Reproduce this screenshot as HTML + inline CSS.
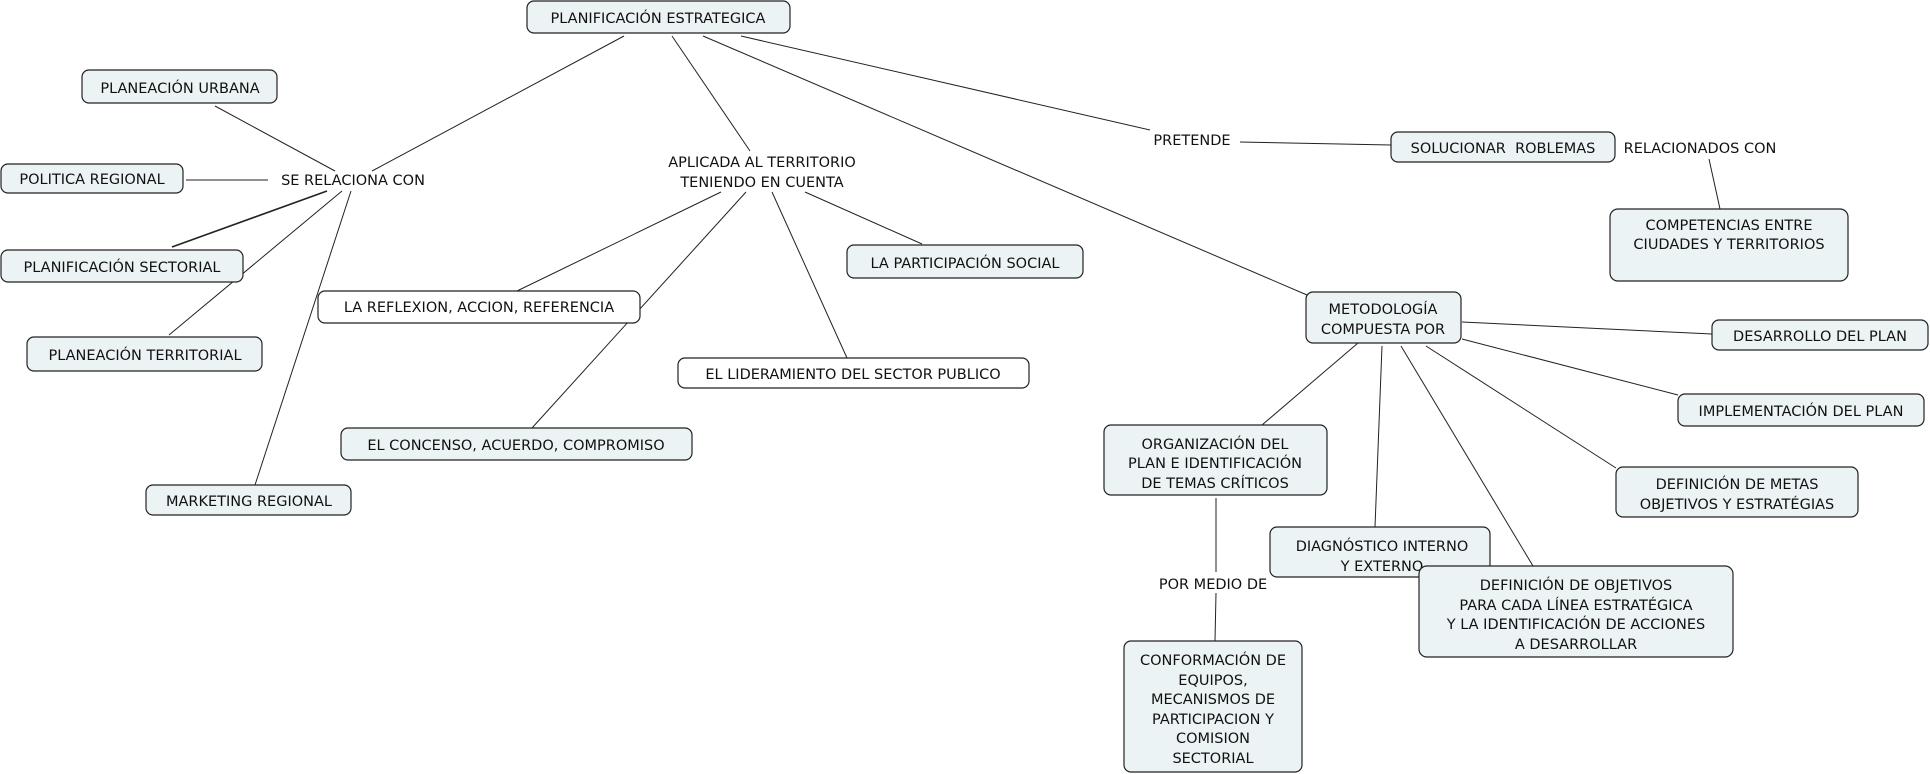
<!DOCTYPE html>
<html><head><meta charset="utf-8"><style>
html,body{margin:0;padding:0;background:#fff;}
svg{display:block;}
text{font-family:"DejaVu Sans","Liberation Sans",sans-serif;font-size:14.5px;fill:#111;text-anchor:middle;}
.b{fill:#ecf3f4;stroke:#222;stroke-width:1.2;}
.w{fill:#fff;stroke:#222;stroke-width:1.2;}
line{stroke:#222;stroke-width:1;}
</style></head><body>
<svg width="1930" height="774" viewBox="0 0 1930 774" xmlns="http://www.w3.org/2000/svg">
<!-- connectors -->
<line x1="624" y1="36" x2="372" y2="171"/>
<line x1="672" y1="36" x2="750" y2="151"/>
<line x1="703" y1="36" x2="1307" y2="295"/>
<line x1="741" y1="36" x2="1150" y2="130"/>
<line x1="1240" y1="142" x2="1391" y2="145"/>
<line x1="215" y1="106" x2="335" y2="171"/>
<line x1="186" y1="180" x2="268" y2="180"/>
<line x1="172" y1="247" x2="327" y2="191" style="stroke-width:1.6"/>
<line x1="169" y1="335" x2="342" y2="191"/>
<line x1="255" y1="485" x2="351" y2="191"/>
<line x1="721" y1="192" x2="517" y2="291"/>
<line x1="746" y1="192" x2="532" y2="428"/>
<line x1="772" y1="192" x2="847" y2="358"/>
<line x1="805" y1="192" x2="922" y2="244"/>
<line x1="1709" y1="159" x2="1720" y2="209"/>
<line x1="1462" y1="322" x2="1712" y2="334"/>
<line x1="1462" y1="339" x2="1678" y2="395"/>
<line x1="1358" y1="343" x2="1262" y2="425"/>
<line x1="1382" y1="346" x2="1375" y2="527"/>
<line x1="1401" y1="346" x2="1533" y2="566"/>
<line x1="1426" y1="346" x2="1616" y2="468"/>
<line x1="1216" y1="498" x2="1216" y2="572"/>
<line x1="1216" y1="593" x2="1215" y2="641"/>
<!-- nodes -->
<rect class="b" x="527" y="1" width="263" height="32" rx="7"/><text x="658" y="23">PLANIFICACIÓN ESTRATEGICA</text>
<rect class="b" x="82" y="70" width="195" height="33" rx="7"/><text x="180" y="93">PLANEACIÓN URBANA</text>
<rect class="b" x="1" y="164" width="182" height="29" rx="7"/><text x="92" y="184">POLITICA REGIONAL</text>
<rect class="b" x="1" y="250" width="242" height="32" rx="7"/><text x="122" y="272">PLANIFICACIÓN SECTORIAL</text>
<rect class="b" x="27" y="337" width="235" height="34" rx="7"/><text x="145" y="360">PLANEACIÓN TERRITORIAL</text>
<rect class="b" x="146" y="485" width="205" height="30" rx="7"/><text x="249" y="506">MARKETING REGIONAL</text>
<rect class="w" x="318" y="291" width="322" height="32" rx="7"/><text x="479" y="312">LA REFLEXION, ACCION, REFERENCIA</text>
<rect class="b" x="341" y="428" width="351" height="32" rx="7"/><text x="516" y="450">EL CONCENSO, ACUERDO, COMPROMISO</text>
<rect class="b" x="847" y="245" width="236" height="33" rx="7"/><text x="965" y="268">LA PARTICIPACIÓN SOCIAL</text>
<rect class="w" x="678" y="358" width="351" height="30" rx="7"/><text x="853" y="379">EL LIDERAMIENTO DEL SECTOR PUBLICO</text>
<rect class="b" x="1391" y="132" width="224" height="30" rx="7"/><text x="1503" y="153" xml:space="preserve">SOLUCIONAR  ROBLEMAS</text>
<rect class="b" x="1610" y="209" width="238" height="72" rx="8"/><text x="1729" y="230">COMPETENCIAS ENTRE</text><text x="1729" y="249">CIUDADES Y TERRITORIOS</text>
<rect class="b" x="1306" y="292" width="155" height="51" rx="7"/><text x="1383" y="314">METODOLOGÍA</text><text x="1383" y="334">COMPUESTA POR</text>
<rect class="b" x="1712" y="320" width="216" height="30" rx="7"/><text x="1820" y="341">DESARROLLO DEL PLAN</text>
<rect class="b" x="1678" y="394" width="246" height="32" rx="7"/><text x="1801" y="416">IMPLEMENTACIÓN DEL PLAN</text>
<rect class="b" x="1616" y="467" width="242" height="50" rx="7"/><text x="1737" y="489">DEFINICIÓN DE METAS</text><text x="1737" y="509">OBJETIVOS Y ESTRATÉGIAS</text>
<rect class="b" x="1104" y="425" width="223" height="70" rx="7"/><text x="1215" y="449">ORGANIZACIÓN DEL</text><text x="1215" y="468">PLAN E IDENTIFICACIÓN</text><text x="1215" y="488">DE TEMAS CRÍTICOS</text>
<rect class="b" x="1270" y="527" width="220" height="50" rx="7"/><text x="1382" y="551">DIAGNÓSTICO INTERNO</text><text x="1382" y="571">Y EXTERNO</text>
<rect class="b" x="1419" y="566" width="314" height="91" rx="8"/><text x="1576" y="590">DEFINICIÓN DE OBJETIVOS</text><text x="1576" y="610">PARA CADA LÍNEA ESTRATÉGICA</text><text x="1576" y="629">Y LA IDENTIFICACIÓN DE ACCIONES</text><text x="1576" y="649">A DESARROLLAR</text>
<rect class="b" x="1124" y="641" width="178" height="131" rx="7"/><text x="1213" y="665">CONFORMACIÓN DE</text><text x="1213" y="685">EQUIPOS,</text><text x="1213" y="704">MECANISMOS DE</text><text x="1213" y="724">PARTICIPACION Y</text><text x="1213" y="743">COMISION</text><text x="1213" y="763">SECTORIAL</text>
<!-- labels -->
<text x="353" y="185">SE RELACIONA CON</text>
<text x="762" y="167">APLICADA AL TERRITORIO</text><text x="762" y="187">TENIENDO EN CUENTA</text>
<text x="1192" y="145">PRETENDE</text>
<text x="1700" y="153">RELACIONADOS CON</text>
<text x="1213" y="589">POR MEDIO DE</text>
</svg>
</body></html>
